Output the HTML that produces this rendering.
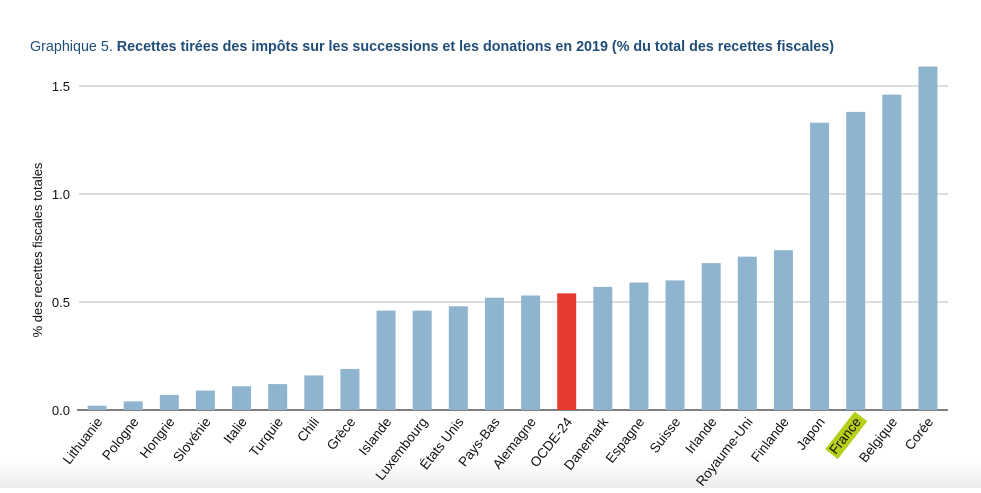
<!DOCTYPE html>
<html><head><meta charset="utf-8"><style>
body{margin:0;width:981px;height:488px;overflow:hidden;background:#fff;font-family:"Liberation Sans",sans-serif}
</style></head><body>
<svg id="chart" width="981" height="488">
<defs><linearGradient id="fade" x1="0" y1="0" x2="0" y2="1"><stop offset="0" stop-color="#fff"/><stop offset="1" stop-color="#ececec"/></linearGradient></defs>
<rect x="0" y="462" width="981" height="26" fill="url(#fade)"/>
<text x="30" y="51" font-size="15" fill="#1f4e79" textLength="804" lengthAdjust="spacingAndGlyphs"><tspan>Graphique 5. </tspan><tspan font-weight="bold">Recettes tirées des impôts sur les successions et les donations en 2019 (% du total des recettes fiscales)</tspan></text>
<text transform="translate(42,250) rotate(-90)" text-anchor="middle" font-size="13" fill="#111">% des recettes fiscales totales</text>
<g id="grid"></g><g id="bars"></g><g id="labels"></g>
</svg>
<script>
const categories=["Lithuanie","Pologne","Hongrie","Slovénie","Italie","Turquie","Chili","Grèce","Islande","Luxembourg","États Unis","Pays-Bas","Alemagne","OCDE-24","Danemark","Espagne","Suisse","Irlande","Royaume-Uni","Finlande","Japon","France","Belgique","Corée"];
const values=[0.02,0.04,0.07,0.09,0.11,0.12,0.16,0.19,0.46,0.46,0.48,0.52,0.53,0.54,0.57,0.59,0.60,0.68,0.71,0.74,1.33,1.38,1.46,1.59];
const ticks=[0,0.5,1.0,1.5];
const tickLabels=["0.0","0.5","1.0","1.5"];
const NS="http://www.w3.org/2000/svg";
const x0=79,x1=946,y0=410,scale=216;
const step=(x1-x0)/categories.length;
const yS=v=>y0-v*scale;
const xS=i=>x0+step*(i+0.5);
function mk(t,a,p){const e=document.createElementNS(NS,t);for(const k in a)e.setAttribute(k,a[k]);p.appendChild(e);return e;}
const grid=document.getElementById('grid'),bars=document.getElementById('bars'),labels=document.getElementById('labels');
ticks.forEach((t,i)=>{
  if(t>0){const l=mk('line',{x1:x0,x2:x1+2,y1:yS(t),y2:yS(t),stroke:'#bbb','stroke-width':1},grid);
  
  }
  const tx=mk('text',{x:70,y:yS(t)+5,'text-anchor':'end','font-size':13,fill:'#111'},grid);
  tx.textContent=tickLabels[i];
  
  
});
categories.forEach((c,i)=>{
  const v=values[i],w=19;
  const r=mk('rect',{x:xS(i)-w/2,y:yS(v),width:w,height:y0-yS(v),fill:c==="OCDE-24"?'#e63b2e':'#8fb4cf'},bars);
  
  
  const gx=xS(i)+6,gy=422;
  if(c==="France"){
    const hl=mk('rect',{x:-44,y:-12,width:48,height:16,fill:'#b5cf1a',transform:`translate(${gx},${gy}) rotate(-52)`},labels);
    
    
  }
  const t=mk('text',{transform:`translate(${gx},${gy}) rotate(-52)`,'text-anchor':'end','font-size':13.5,fill:'#111'},labels);
  t.textContent=c;
  
  
});
const ax=mk('line',{x1:x0-2,x2:x1+2,y1:y0,y2:y0,stroke:'#555','stroke-width':1.5},grid);


</script>
</body></html>
